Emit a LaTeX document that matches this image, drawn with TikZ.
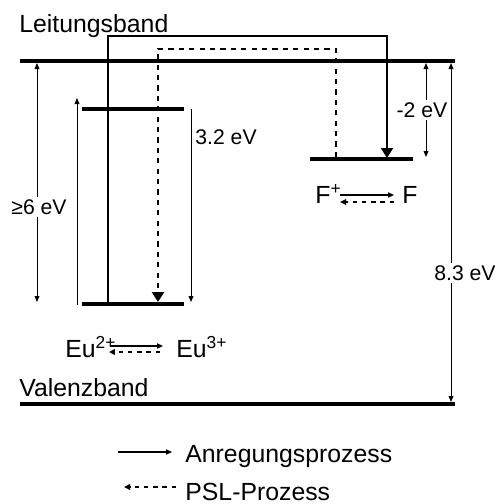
\documentclass[tikz,border=0pt]{standalone}
\usepackage{fontspec}
\setmainfont{Liberation Sans}
\usetikzlibrary{arrows.meta}
\begin{document}
\begin{tikzpicture}[x=0.5pt,y=-0.5pt,
  band/.style={line width=2.1pt},
  excite/.style={line width=1pt,-{Triangle[length=5pt,width=6pt]}},
  psl/.style={line width=1.3pt,dash pattern=on 2.6pt off 2.6pt,-{Triangle[length=5pt,width=6pt]}},
  gap/.style={line width=0.5pt,{Triangle[length=3pt,width=2.4pt]}-{Triangle[length=3pt,width=2.4pt]}},
  fwd/.style={line width=0.7pt,-{Triangle[length=3pt,width=2.6pt]}},
  bwd/.style={line width=1pt,dash pattern=on 2.2pt off 2.4pt,-{Triangle[length=3pt,width=2.8pt]}},
  big/.style={font=\fontsize{12.4}{14}\selectfont,inner sep=0pt},
  ev/.style={font=\fontsize{10.6}{12}\selectfont,fill=white,inner sep=1pt}]
  \useasboundingbox (0,0) rectangle (496,504);
  % Bands and levels
  \draw[band] (20,61) -- (455,61);
  \draw[band] (20,404) -- (455,404);
  \draw[band] (82,109) -- (184,109);
  \draw[band] (82,304) -- (184,304);
  \draw[band] (310,159) -- (413,159);
  \node[big,anchor=base west] (cb) at (19,32) {Leitungsband};
  \node[big,anchor=base west] (vb) at (19,396) {Valenzband};
  % Anregung and PSL
  \coordinate (euA) at (108,304);
  \coordinate (fA) at (387,158);
  \coordinate (fP) at (336,157);
  \coordinate (euP) at (158,302);
  \draw[excite] (euA) |- (387,36) -- (fA);
  \draw[psl] (fP) |- (158,49) -- (euP);
  % Energies
  \draw[gap] (37,63) -- (37,302);
  \node[ev] (e6) at (39,207) {≥6 eV};
  \draw[line width=0.5pt,-{Triangle[length=3pt,width=2.4pt]}] (77,305) -- (77,98);
  \draw[line width=0.5pt,-{Triangle[length=3pt,width=2.4pt]}] (191,109) -- (191,302);
  \node[ev,anchor=west] (e32) at (193,137) {3.2 eV};
  \draw[gap] (426,63) -- (426,157);
  \node[ev] (e2) at (422,110) {-2 eV};
  \draw[gap] (451,63) -- (451,402);
  \node[ev] (e83) at (465,273) {8.3 eV};
  % Eu and F states
  \node[big,anchor=base west] (eu2) at (65,357) {Eu\textsuperscript{2+}};
  \node[big,anchor=base west] (eu3) at (176,357) {Eu\textsuperscript{3+}};
  \draw[fwd] ([shift={(-3.5pt,5.5pt)}]eu2.base east) -- ([shift={(-6.5pt,5.5pt)}]eu3.base west);
  \draw[bwd] ([shift={(-8pt,2.5pt)}]eu3.base west) -- ([shift={(-4pt,2.5pt)}]eu2.base east);
  \node[big,anchor=base west] (fplus) at (315,203) {F\textsuperscript{+}};
  \node[big,anchor=base west] (f) at (402,203) {F};
  \draw[fwd] ([shift={(-1pt,4pt)}]fplus.base east) -- ([shift={(-4pt,4pt)}]f.base west);
  \draw[bwd] ([shift={(-4pt,0.5pt)}]f.base west) -- ([shift={(-1pt,0.5pt)}]fplus.base east);
  % Legend
  \node[big,anchor=base west] (legA) at (185,462) {Anregungsprozess};
  \node[big,anchor=base west] (legP) at (185,500) {PSL-Prozess};
  \coordinate (la) at (118,452);
  \coordinate (lp) at (176,487);
  \draw[fwd] (la) -- ([xshift=-6.5pt]la -| legA.west);
  \draw[bwd] (lp) -- ([xshift=-30.5pt]lp -| legP.west);
\end{tikzpicture}
\end{document}
